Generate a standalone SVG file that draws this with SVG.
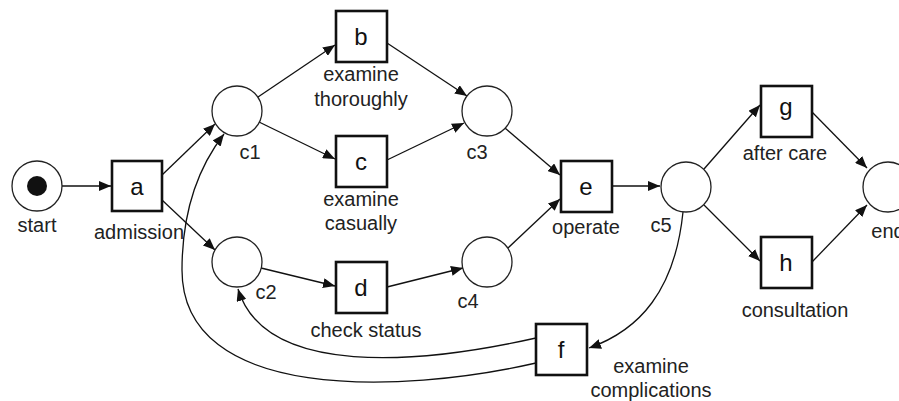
<svg xmlns="http://www.w3.org/2000/svg" width="899" height="401" viewBox="0 0 899 401">
<defs>
<marker id="ar" viewBox="0 0 12 10" refX="12" refY="5" markerWidth="12" markerHeight="10" markerUnits="userSpaceOnUse" orient="auto">
<path d="M0,0 L12,5 L0,10 z" fill="#111"/>
</marker>
<style>
.pl{fill:#fff;stroke:#222;stroke-width:1.3}
.tr{fill:#fff;stroke:#111;stroke-width:2.6}
.arc{fill:none;stroke:#111;stroke-width:1.3;marker-end:url(#ar)}
.t{font-family:"Liberation Sans",Arial,sans-serif;font-size:24px;fill:#111;text-anchor:middle}
.l{font-family:"Liberation Sans",Arial,sans-serif;font-size:20px;fill:#222;text-anchor:middle}
</style>
</defs>
<rect width="899" height="401" fill="#fff"/>
<g id="connectors">
<line class="arc" x1="62" y1="186" x2="111" y2="186"/>
<line class="arc" x1="162" y1="175" x2="215" y2="124"/>
<line class="arc" x1="162" y1="200" x2="215" y2="250"/>
<line class="arc" x1="258" y1="97" x2="335" y2="45"/>
<line class="arc" x1="259" y1="122" x2="335" y2="159"/>
<line class="arc" x1="387" y1="43" x2="467" y2="96"/>
<line class="arc" x1="387" y1="160" x2="464" y2="123"/>
<line class="arc" x1="505" y1="128" x2="560" y2="175"/>
<line class="arc" x1="261" y1="268" x2="335" y2="286"/>
<line class="arc" x1="387" y1="287" x2="463" y2="268"/>
<line class="arc" x1="508" y1="248" x2="560" y2="199"/>
<line class="arc" x1="612" y1="186" x2="660" y2="186"/>
<line class="arc" x1="704" y1="169" x2="760" y2="105"/>
<line class="arc" x1="704" y1="205" x2="760" y2="261"/>
<line class="arc" x1="812" y1="112" x2="867" y2="168"/>
<line class="arc" x1="812" y1="262" x2="867" y2="205"/>
<path class="arc" d="M683,212 C675,290 640,330 589,348"/>
<path class="arc" d="M536,338 C420,364 265,378 238,289"/>
<path class="arc" d="M536,363 C400,394 182,402 182,270 C182,210 200,165 224,134"/>
</g>
<g id="start"><circle class="pl" cx="37" cy="186" r="25"/><circle cx="37" cy="186" r="10" fill="#111"/><text class="l" x="37" y="232">start</text></g>
<g id="a"><rect class="tr" x="112" y="161" width="50" height="50"/><text class="t" x="137" y="195">a</text><text class="l" x="139" y="239">admission</text></g>
<g id="c1"><circle class="pl" cx="237" cy="111" r="25"/><text class="l" x="250" y="159">c1</text></g>
<g id="c2"><circle class="pl" cx="237" cy="262" r="25"/><text class="l" x="266" y="299">c2</text></g>
<g id="b"><rect class="tr" x="336" y="11" width="51" height="51"/><text class="t" x="361" y="45">b</text><text class="l" x="361" y="81">examine</text><text class="l" x="361" y="106">thoroughly</text></g>
<g id="c"><rect class="tr" x="336" y="136" width="51" height="51"/><text class="t" x="361" y="170">c</text><text class="l" x="361" y="206">examine</text><text class="l" x="361" y="230">casually</text></g>
<g id="d"><rect class="tr" x="336" y="262" width="51" height="51"/><text class="t" x="361" y="296">d</text><text class="l" x="366" y="337">check status</text></g>
<g id="c3"><circle class="pl" cx="487" cy="111" r="25"/><text class="l" x="477" y="159">c3</text></g>
<g id="c4"><circle class="pl" cx="487" cy="262" r="25"/><text class="l" x="468" y="308">c4</text></g>
<g id="e"><rect class="tr" x="561" y="161" width="51" height="51"/><text class="t" x="586" y="195">e</text><text class="l" x="586" y="234">operate</text></g>
<g id="c5"><circle class="pl" cx="686" cy="187" r="25"/><text class="l" x="661" y="232">c5</text></g>
<g id="f"><rect class="tr" x="536" y="324" width="51" height="51"/><text class="t" x="561" y="358">f</text><text class="l" x="651" y="373">examine</text><text class="l" x="651" y="397">complications</text></g>
<g id="g"><rect class="tr" x="761" y="86" width="51" height="51"/><text class="t" x="786" y="115">g</text><text class="l" x="785" y="160">after care</text></g>
<g id="h"><rect class="tr" x="761" y="237" width="51" height="51"/><text class="t" x="786" y="271">h</text><text class="l" x="795" y="317">consultation</text></g>
<g id="end"><circle class="pl" cx="888" cy="187" r="25"/><text class="l" x="888" y="238">end</text></g>
</svg>
